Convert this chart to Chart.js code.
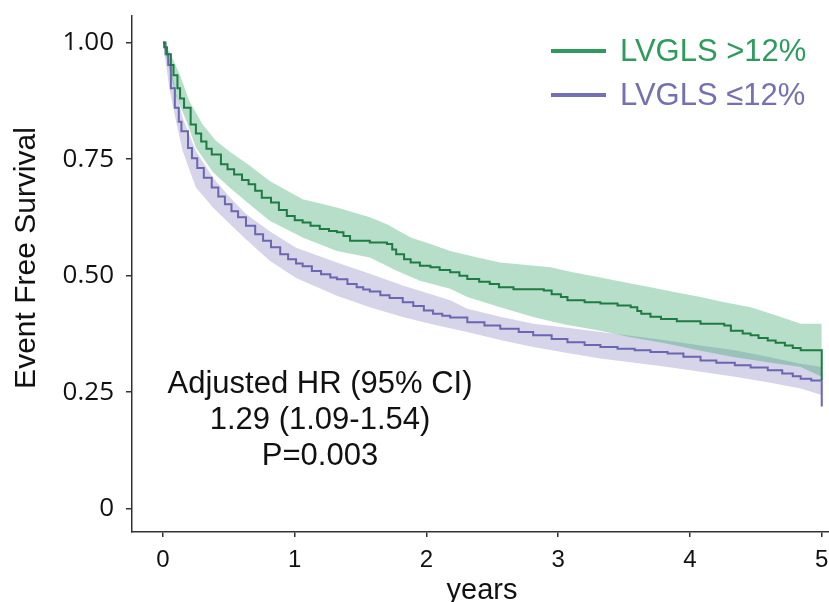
<!DOCTYPE html>
<html>
<head>
<meta charset="utf-8">
<script src="https://cdn.jsdelivr.net/npm/chart.js@4"></script>
<style>
  body { margin: 0; background: #fff; }
  canvas { display: block; }
</style>
</head>
<body>
<canvas id="km" width="829" height="602"></canvas>
<script>
// groups + labels
const groupNames = ["LVGLS >12%", "LVGLS \u226412%"];
const xTicks = [0, 1, 2, 3, 4, 5];
const xTickLabels = ["0", "1", "2", "3", "4", "5"];
const yTicks = [0, 0.25, 0.5, 0.75, 1];
const yTickLabels = ["0", "0.25", "0.50", "0.75", "1.00"];

// LVGLS >12% (green) - survival line
const hiTime = [0, 0.01, 0.03, 0.06, 0.08, 0.11, 0.13, 0.16, 0.21, 0.25, 0.29, 0.33, 0.37, 0.44, 0.49, 0.54, 0.60, 0.65, 0.70, 0.75, 0.82, 0.88, 0.94, 1.00, 1.06, 1.12, 1.19, 1.26, 1.32, 1.37, 1.42, 1.57, 1.70, 1.74, 1.77, 1.83, 1.88, 1.95, 2.03, 2.10, 2.18, 2.25, 2.31, 2.40, 2.48, 2.55, 2.66, 2.89, 2.95, 3.02, 3.07, 3.20, 3.32, 3.45, 3.55, 3.60, 3.63, 3.70, 3.78, 3.90, 4.08, 4.26, 4.31, 4.40, 4.46, 4.52, 4.59, 4.65, 4.72, 4.78, 4.84, 5.00];
const hiSurv = [1.0, 0.99, 0.975, 0.952, 0.93, 0.902, 0.88, 0.86, 0.824, 0.805, 0.788, 0.772, 0.76, 0.739, 0.728, 0.717, 0.705, 0.696, 0.682, 0.667, 0.657, 0.641, 0.628, 0.619, 0.614, 0.607, 0.600, 0.596, 0.593, 0.585, 0.575, 0.571, 0.568, 0.556, 0.546, 0.535, 0.528, 0.521, 0.518, 0.512, 0.507, 0.500, 0.493, 0.487, 0.482, 0.475, 0.471, 0.468, 0.460, 0.454, 0.447, 0.443, 0.440, 0.436, 0.432, 0.424, 0.418, 0.412, 0.407, 0.402, 0.397, 0.393, 0.382, 0.376, 0.372, 0.366, 0.361, 0.356, 0.350, 0.345, 0.340, 0.276];
// green CI band
const hiUpTime = [0, 0.05, 0.13, 0.20, 0.30, 0.40, 0.51, 0.65, 0.81, 1.06, 1.32, 1.57, 1.70, 1.88, 2.03, 2.18, 2.37, 2.56, 2.94, 3.10, 3.32, 3.50, 3.70, 3.90, 4.08, 4.26, 4.46, 4.65, 4.84, 5.00];
const hiUp = [1.0, 0.98, 0.93, 0.874, 0.825, 0.79, 0.765, 0.738, 0.703, 0.664, 0.646, 0.625, 0.610, 0.582, 0.568, 0.553, 0.540, 0.528, 0.518, 0.508, 0.496, 0.486, 0.475, 0.464, 0.454, 0.443, 0.432, 0.415, 0.397, 0.397];
const hiLoTime = [0, 0.05, 0.10, 0.18, 0.25, 0.38, 0.51, 0.65, 0.81, 1.06, 1.32, 1.57, 1.77, 1.95, 2.18, 2.31, 2.56, 2.81, 3.05, 3.32, 3.55, 3.83, 4.08, 4.34, 4.59, 4.84, 5.00];
const hiLo = [1.0, 0.94, 0.885, 0.83, 0.775, 0.722, 0.688, 0.655, 0.618, 0.582, 0.553, 0.539, 0.511, 0.489, 0.472, 0.454, 0.432, 0.411, 0.395, 0.382, 0.368, 0.354, 0.339, 0.325, 0.314, 0.304, 0.283];

// LVGLS <=12% (purple) - survival line
const loTime = [0, 0.02, 0.04, 0.06, 0.09, 0.12, 0.14, 0.19, 0.22, 0.26, 0.31, 0.37, 0.42, 0.47, 0.52, 0.57, 0.63, 0.70, 0.76, 0.82, 0.89, 0.95, 1.01, 1.06, 1.13, 1.20, 1.27, 1.32, 1.40, 1.47, 1.52, 1.57, 1.65, 1.72, 1.82, 1.90, 1.98, 2.05, 2.12, 2.18, 2.31, 2.44, 2.56, 2.70, 2.81, 2.95, 3.07, 3.20, 3.32, 3.45, 3.58, 3.70, 3.83, 3.95, 4.08, 4.20, 4.34, 4.46, 4.59, 4.70, 4.78, 4.84, 4.92, 5.00];
const loSurv = [1.0, 0.975, 0.952, 0.902, 0.86, 0.83, 0.81, 0.774, 0.752, 0.731, 0.71, 0.689, 0.67, 0.653, 0.638, 0.625, 0.607, 0.589, 0.575, 0.561, 0.546, 0.535, 0.526, 0.520, 0.510, 0.503, 0.496, 0.492, 0.482, 0.475, 0.470, 0.466, 0.458, 0.452, 0.443, 0.435, 0.425, 0.418, 0.414, 0.410, 0.400, 0.393, 0.386, 0.379, 0.372, 0.364, 0.357, 0.351, 0.347, 0.343, 0.340, 0.336, 0.333, 0.326, 0.318, 0.313, 0.308, 0.303, 0.297, 0.290, 0.284, 0.279, 0.275, 0.219];
// purple CI band
const loUpTime = [0, 0.05, 0.10, 0.15, 0.25, 0.38, 0.51, 0.63, 0.81, 1.01, 1.32, 1.57, 1.82, 2.18, 2.31, 2.56, 2.81, 3.07, 3.32, 3.58, 3.83, 4.08, 4.34, 4.59, 4.84, 5.00];
const loUp = [1.0, 0.965, 0.89, 0.838, 0.767, 0.71, 0.667, 0.632, 0.595, 0.560, 0.528, 0.504, 0.479, 0.447, 0.429, 0.412, 0.397, 0.388, 0.379, 0.370, 0.361, 0.350, 0.340, 0.326, 0.311, 0.304];
const loLoTime = [0, 0.05, 0.10, 0.15, 0.25, 0.38, 0.51, 0.63, 0.81, 1.01, 1.32, 1.57, 1.82, 2.05, 2.31, 2.56, 2.81, 3.07, 3.32, 3.58, 3.83, 4.08, 4.34, 4.59, 4.84, 5.00];
const loLo = [1.0, 0.90, 0.83, 0.767, 0.689, 0.646, 0.610, 0.578, 0.532, 0.495, 0.457, 0.432, 0.411, 0.395, 0.379, 0.362, 0.347, 0.334, 0.322, 0.313, 0.304, 0.294, 0.283, 0.271, 0.258, 0.244];

const annotation = ["Adjusted HR (95% CI)", "1.29 (1.09-1.54)", "P=0.003"];

const pts = (xs, ys) => xs.map((x, i) => ({ x: x, y: ys[i] }));

const lineColors = ["#1d7b43", "#6b66b0"];
const legendColors = ["#2e9b5c", "#7570b3"];
const bandColors = ["rgba(46,160,100,0.35)", "rgba(117,112,179,0.3)"];

const band = (data, fill, color) => ({
  data: data, borderWidth: 0, borderColor: "transparent",
  pointRadius: 0, fill: fill, backgroundColor: color, tension: 0
});

// text + legend drawn on the canvas
const textPlugin = {
  id: "texts",
  afterDraw(chart) {
    const c = chart.ctx;
    c.save();
    c.fillStyle = "#111";
    c.textAlign = "center";
    c.textBaseline = "middle";

    // y title
    c.save();
    c.translate(27, 258);
    c.rotate(-Math.PI / 2);
    c.font = "30px 'Liberation Sans', Arial, sans-serif";
    c.fillText("Event Free Survival", 0, 0);
    c.restore();

    // x title
    c.font = "29px 'Liberation Sans', Arial, sans-serif";
    c.fillText("years", 482, 591);

    // HR box
    c.font = "31px 'Liberation Sans', Arial, sans-serif";
    annotation.forEach((t, i) => c.fillText(t, 320, 384 + i * 36));

    // legend
    c.textAlign = "left";
    groupNames.forEach((name, i) => {
      const y = 51 + i * 44;
      c.strokeStyle = legendColors[i];
      c.lineWidth = 4;
      c.beginPath();
      c.moveTo(551, y);
      c.lineTo(606, y);
      c.stroke();
      c.fillStyle = legendColors[i];
      c.font = "31px 'Liberation Sans', Arial, sans-serif";
      c.fillText(name, 620, y + 1);
    });
    c.restore();
  }
};

const ctx = document.getElementById("km");
const myChart = new Chart(ctx, {
  type: "line",
  data: {
    datasets: [
      { label: groupNames[0], data: pts(hiTime, hiSurv), stepped: "before", borderColor: lineColors[0], borderWidth: 2, pointRadius: 0, fill: false },
      { label: groupNames[1], data: pts(loTime, loSurv), stepped: "before", borderColor: lineColors[1], borderWidth: 2, pointRadius: 0, fill: false },
      band(pts(hiLoTime, hiLo), false, "transparent"),
      band(pts(hiUpTime, hiUp), "-1", bandColors[0]),
      band(pts(loLoTime, loLo), false, "transparent"),
      band(pts(loUpTime, loUp), "-1", bandColors[1]),
    ],
  },
  options: {
    responsive: false,
    animation: false,
    layout: { padding: { top: 16, right: 0, left: 0, bottom: 0 } },
    plugins: {
      legend: { display: false },
      tooltip: { enabled: false },
    },
    scales: {
      x: {
        type: "linear",
        min: -0.235,
        max: 5.055,
        afterBuildTicks: (s) => { s.ticks = xTicks.map((v) => ({ value: v })); },
        afterFit: (s) => { s.height = 70; s.paddingLeft = 0; s.paddingRight = 0; },
        grid: { drawOnChartArea: false, drawTicks: true, tickLength: 5, color: "#333", lineWidth: 1.5 },
        border: { color: "#333", width: 1.5 },
        ticks: {
          padding: 9,
          color: "#111",
          maxRotation: 0,
          font: { family: "'Liberation Sans Narrow', 'Liberation Sans', Arial, sans-serif", size: 24 },
          callback: (v, i) => xTickLabels[i],
        },
      },
      y: {
        min: -0.05,
        max: 1.057,
        afterBuildTicks: (s) => { s.ticks = yTicks.map((v) => ({ value: v })); },
        afterFit: (s) => { s.width = 132; s.paddingTop = 0; s.paddingBottom = 0; },
        grid: { drawOnChartArea: false, drawTicks: true, tickLength: 6, color: "#333", lineWidth: 1.5 },
        border: { color: "#333", width: 1.5 },
        ticks: {
          padding: 12,
          color: "#111",
          font: { family: "'Open Sans', 'Liberation Sans', sans-serif", size: 26 },
          callback: (v, i) => yTickLabels[i],
        },
      },
    },
  },
  plugins: [textPlugin],
});
</script>
</body>
</html>
